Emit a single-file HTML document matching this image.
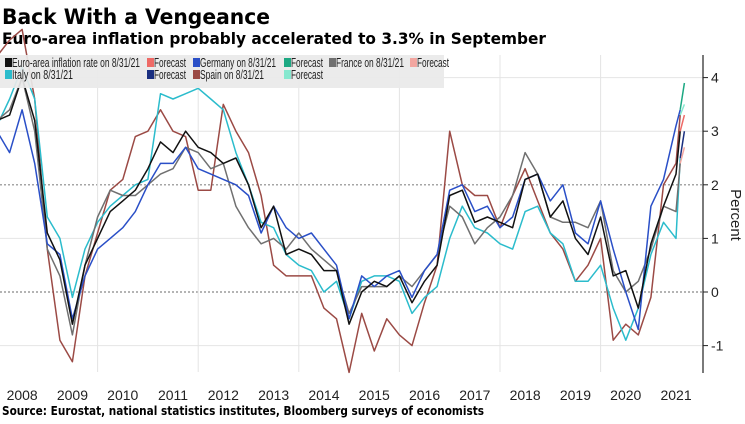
<!DOCTYPE html>
<html><head><meta charset="utf-8"><style>
body{margin:0;background:#fff;width:745px;height:419px;overflow:hidden;font-family:"Liberation Sans",sans-serif}
</style></head><body>
<svg id="c" width="745" height="419" xmlns="http://www.w3.org/2000/svg">
<text x="2" y="24" font-size="21" font-weight="bold" fill="#000" textLength="268" lengthAdjust="spacingAndGlyphs" style="font-family:'DejaVu Sans',sans-serif">Back With a Vengeance</text>
<text x="2" y="44" font-size="16" font-weight="bold" fill="#000" textLength="544" lengthAdjust="spacingAndGlyphs" style="font-family:'DejaVu Sans',sans-serif">Euro-area inflation probably accelerated to 3.3% in September</text>
<text x="2" y="415" font-size="12" font-weight="bold" fill="#000" textLength="482" lengthAdjust="spacingAndGlyphs" style="font-family:'DejaVu Sans',sans-serif">Source: Eurostat, national statistics institutes, Bloomberg surveys of economists</text>
<g id="grid"></g><g id="lines"></g><g id="axis"></g>
<rect x="0" y="55" width="444" height="33" fill="#e9e9e9" opacity="0.92"/>
<g id="legend" font-size="13" fill="#222"></g>
<text transform="translate(731,215) rotate(90)" font-size="15" text-anchor="middle" fill="#222">Percent</text>
</svg>
<script>
const dates=["2008-01","2008-04","2008-07","2008-10","2009-01","2009-04","2009-07","2009-10","2010-01","2010-04","2010-07","2010-10","2011-01","2011-04","2011-07","2011-10","2012-01","2012-04","2012-07","2012-10","2013-01","2013-04","2013-07","2013-10","2014-01","2014-04","2014-07","2014-10","2015-01","2015-04","2015-07","2015-10","2016-01","2016-04","2016-07","2016-10","2017-01","2017-04","2017-07","2017-10","2018-01","2018-04","2018-07","2018-10","2019-01","2019-04","2019-07","2019-10","2020-01","2020-04","2020-07","2020-10","2021-01","2021-04","2021-07","2021-08"];
const euroArea=[3.2,3.3,4.0,3.2,1.1,0.6,-0.6,0.5,1.0,1.5,1.7,1.9,2.3,2.8,2.6,3.0,2.7,2.6,2.4,2.5,2.0,1.2,1.6,0.7,0.8,0.7,0.4,0.4,-0.6,0.0,0.2,0.1,0.3,-0.2,0.2,0.5,1.8,1.9,1.3,1.4,1.3,1.2,2.1,2.2,1.4,1.7,1.0,0.7,1.4,0.3,0.4,-0.3,0.9,1.6,2.2,3.0];
const germany=[3.0,2.6,3.4,2.4,0.9,0.7,-0.5,0.3,0.8,1.0,1.2,1.5,2.0,2.4,2.4,2.7,2.3,2.2,2.1,2.0,1.8,1.1,1.6,1.2,1.0,1.1,0.8,0.5,-0.5,0.3,0.1,0.3,0.4,-0.1,0.4,0.7,1.9,2.0,1.5,1.6,1.2,1.4,2.1,2.2,1.7,2.0,1.1,0.9,1.7,0.8,0.0,-0.7,1.6,2.1,3.1,3.4];
const france=[3.2,3.4,4.0,3.0,0.8,0.3,-0.8,0.5,1.4,1.9,1.8,1.8,2.0,2.2,2.3,2.7,2.6,2.3,2.4,1.6,1.2,0.9,1.0,0.8,1.1,0.8,0.6,0.4,-0.4,0.1,0.1,0.1,0.3,0.1,0.4,0.7,1.6,1.4,0.9,1.2,1.4,1.8,2.6,2.2,1.4,1.3,1.3,1.2,1.7,0.4,0.0,0.2,0.8,1.6,1.5,2.4];
const italy=[3.1,3.6,4.2,3.6,1.4,1.0,-0.1,0.8,1.3,1.6,1.8,2.0,2.1,3.7,3.6,3.7,3.8,3.6,3.4,2.6,2.0,1.3,1.2,0.7,0.5,0.4,0.0,0.2,-0.5,0.2,0.3,0.3,0.2,-0.4,-0.1,0.1,1.0,1.6,1.2,1.1,0.9,0.8,1.5,1.6,1.1,0.9,0.2,0.2,0.5,-0.3,-0.9,-0.3,0.7,1.3,1.0,2.5];
const spain=[4.4,4.7,4.9,3.6,0.8,-0.9,-1.3,0.3,1.1,1.9,2.1,2.9,3.0,3.4,3.0,2.9,1.9,1.9,3.5,3.0,2.6,1.8,0.5,0.3,0.3,0.3,-0.3,-0.5,-1.5,-0.4,-1.1,-0.5,-0.8,-1.0,-0.2,0.5,3.0,2.0,1.8,1.8,1.2,1.8,2.3,1.7,1.1,0.8,0.2,0.5,1.0,-0.9,-0.6,-0.8,-0.1,2.0,2.4,3.3];
const fcDates=["2021-08","2021-09"];
const euroFc=[3.0,3.3], germanyFc=[3.4,3.9], franceFc=[2.4,2.7], italyFc=[2.5,3.0], spainFc=[3.3,3.5];
const yTicks=[-1,0,1,2,3,4];
const xYears=[2008,2009,2010,2011,2012,2013,2014,2015,2016,2017,2018,2019,2020,2021];

const NS="http://www.w3.org/2000/svg";
function tnum(d){const [y,m]=d.split("-").map(Number);return y+(m-1)/12;}
function X(t){return -3+(t-2008)*50.3;}
function Y(v){return 292-53.6*v;}
function mk(tag,attrs,parent){const e=document.createElementNS(NS,tag);for(const k in attrs)e.setAttribute(k,attrs[k]);parent.appendChild(e);return e;}
const grid=document.getElementById("grid"),lines=document.getElementById("lines"),axis=document.getElementById("axis"),legend=document.getElementById("legend");
yTicks.forEach(v=>{
  const dotted=(v===0||v===2);
  const l=mk("line",{x1:0,x2:703,y1:Y(v),y2:Y(v),stroke:dotted?"#888":"#e4e4e4","stroke-width":dotted?1.2:1,"stroke-dasharray":dotted?"2,2":"none"},grid);
  
  
  const tk=mk("line",{x1:703,x2:708,y1:Y(v),y2:Y(v),stroke:"#222"},axis);
  
  
  const t=mk("text",{x:711,y:Y(v)+5,"font-size":14,fill:"#222"},axis);
  t.textContent=v;
  
  
});
xYears.forEach(y=>{
  if(y%2===0&&y>2008){const g=mk("line",{x1:X(y),x2:X(y),y1:55,y2:372,stroke:"#e4e4e4"},grid);
  
  }
  const t=mk("text",{x:X(y+0.5),y:400,"font-size":14,"text-anchor":"middle",fill:"#222"},axis);
  t.textContent=y;
  
  
});
const ax=mk("line",{x1:703,x2:703,y1:55,y2:373,stroke:"#222","stroke-width":1.2},axis);


function path(ds,vs,color,name,w){
  const d=vs.map((v,i)=>(i?"L":"M")+X(tnum(ds[i])).toFixed(1)+","+Y(v).toFixed(1)).join("");
  const p=mk("path",{d:d,fill:"none",stroke:color,"stroke-width":w||1.5,"stroke-linejoin":"round"},lines);
  
  
}
path(dates,spain,"#9b4a45","spain-line");
path(dates,italy,"#2bbccc","italy-line");
path(dates,france,"#707070","france-line");
path(dates,germany,"#2a4fc7","germany-line");
path(dates,euroArea,"#111","euro-area-line");
path(fcDates,spainFc,"#86e8cf","spain-forecast-line");
path(fcDates,italyFc,"#1a2f80","italy-forecast-line");
path(fcDates,franceFc,"#f2a6a0","france-forecast-line");
path(fcDates,germanyFc,"#1ca882","germany-forecast-line");
path(fcDates,euroFc,"#ee6a66","euro-area-forecast-line");
const items=[["Euro-area inflation rate on 8/31/21","#111",5,67,128],["Forecast","#ee6a66",147,67,32],["Germany on 8/31/21","#2a4fc7",193,67,76],["Forecast","#1ca882",284,67,32],["France on 8/31/21","#707070",329,67,68],["Forecast","#f2a6a0",410,67,32],
["Italy on 8/31/21","#2bbccc",5,79,61],["Forecast","#1a2f80",147,79,32],["Spain on 8/31/21","#9b4a45",193,79,64],["Forecast","#86e8cf",284,79,32]];
items.forEach(it=>{
  const g=mk("g",{},legend);
  
  
  mk("rect",{x:it[2],y:it[3]-9,width:7,height:9,fill:it[1]},g);
  const t=mk("text",{x:it[2]+7,y:it[3],"font-size":13,fill:"#222",textLength:it[4],lengthAdjust:"spacingAndGlyphs"},g);
  t.textContent=it[0];
});
</script>
</body></html>
